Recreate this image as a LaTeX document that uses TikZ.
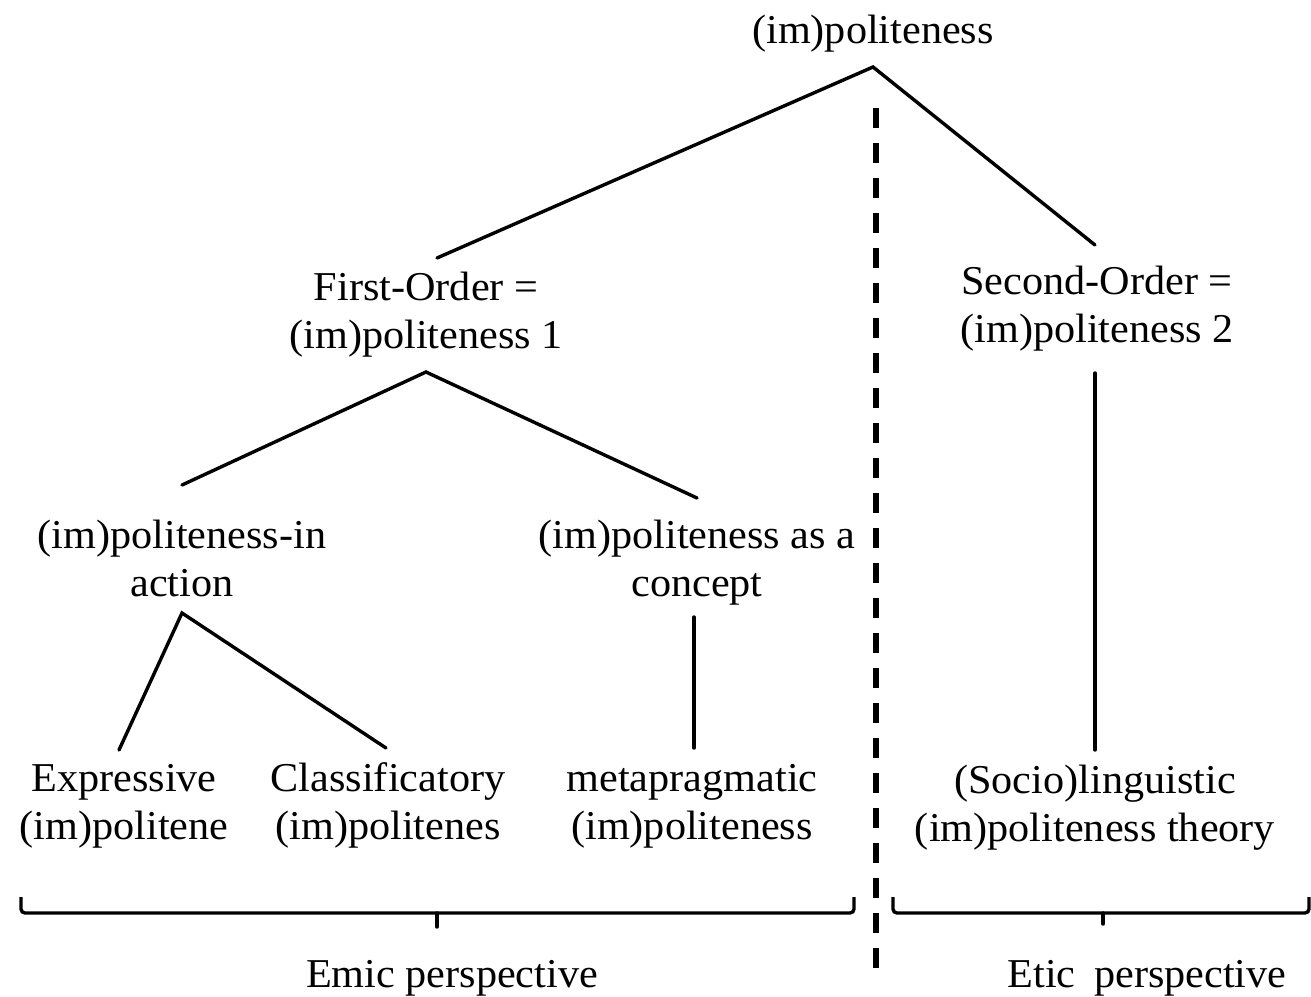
\documentclass[tikz,border=0pt]{standalone}
\usepackage{fontspec}
\setmainfont[FakeStretch=1.03]{Liberation Serif}
\begin{document}
\begin{tikzpicture}[x=1pt,y=-1pt,
  lbl/.style={inner sep=0pt, align=center, anchor=base, font=\fontsize{41}{48}\selectfont},
  edge/.style={line width=3.4pt, line cap=round},
  brace/.style={line width=3.4pt, rounded corners=4pt},
  divider/.style={line width=5.5pt, dash pattern=on 20pt off 15pt}]
\useasboundingbox (0,0) rectangle (1311,996);
\fill[white] (0,0) rectangle (1311,996);

% labels (anchored at the baseline of their last line)
\node[lbl] (root)   at (873,43)  {(im)politeness};
\node[lbl] (first)  at (426,348) {First-Order =\\(im)politeness 1};
\node[lbl] (second) at (1097,342) {Second-Order =\\(im)politeness 2};
\node[lbl] (action) at (182,596) {(im)politeness-in\\action};
\node[lbl] (concept) at (697,596) {(im)politeness as a\\concept};
\node[lbl] (expr)   at (124,839) {Expressive\\(im)politene};
\node[lbl] (class)  at (388,839) {Classificatory\\(im)politenes};
\node[lbl] (meta)   at (692,839) {metapragmatic\\(im)politeness};
\node[lbl] (socio)  at (1095,841) {(Socio)linguistic\\(im)politeness theory};
\node[lbl] (emic)   at (452,987) {Emic perspective};
\node[lbl] (etic)   at (1147,987) {Etic\hspace{0.2em} perspective};

% end points of the tree branches
\coordinate (root-b)    at (873,67);
\coordinate (first-t)   at (437,258);
\coordinate (second-t)  at (1095,245);
\coordinate (first-b)   at (426,372);
\coordinate (action-t)  at (182,485);
\coordinate (concept-t) at (697,498);
\coordinate (second-b)  at (1095,373);
\coordinate (socio-t)   at (1095,750);
\coordinate (action-b)  at (182,613);
\coordinate (expr-t)    at (119,750);
\coordinate (class-t)   at (386,748);
\coordinate (concept-b) at (694,617);
\coordinate (meta-t)    at (694,748);

\draw[edge] (first-t) -- (root-b) -- (second-t);
\draw[edge] (action-t) -- (first-b) -- (concept-t);
\draw[edge] (second-b) -- (socio-t);
\draw[edge] (expr-t) -- (action-b) -- (class-t);
\draw[edge] (concept-b) -- (meta-t);

% emic / etic divider
\coordinate (div-t) at (876,108);
\coordinate (div-b) at (876,968);
\draw[divider] (div-t) -- (div-b);

% flat braces grouping the two perspectives
\draw[brace] (21,897) -- (21,913) -- (854,913) -- (854,897);
\draw[edge] (437,913) -- (437,927);
\draw[brace] (893,897) -- (893,913) -- (1309,913) -- (1309,897);
\draw[edge] (1103,913) -- (1103,924);
\end{tikzpicture}
\end{document}
